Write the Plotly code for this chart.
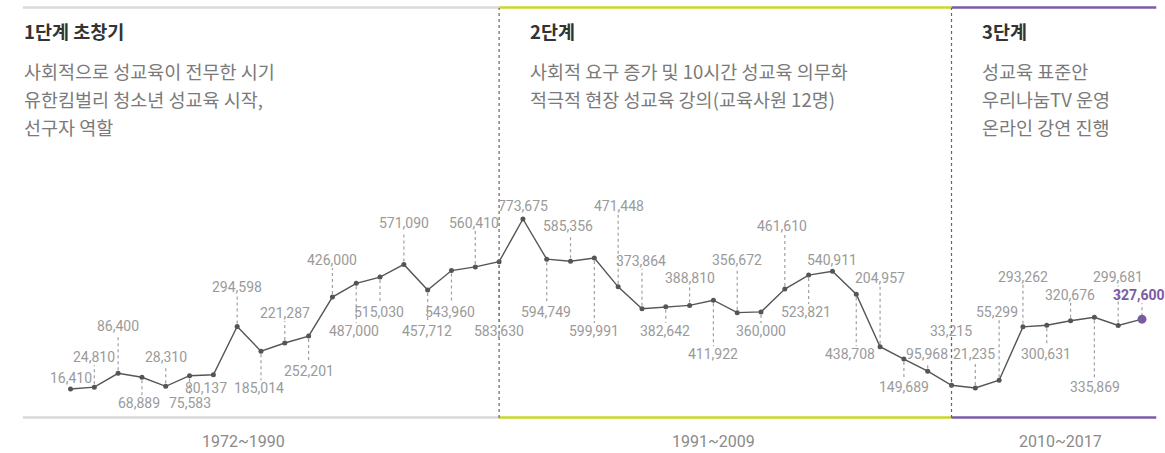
import plotly.graph_objects as go

# ---------------- data ----------------
years = [1972, 1973, 1974, 1975, 1976, 1977, 1978, 1979, 1980, 1981,
         1982, 1983, 1984, 1985, 1986, 1987, 1988, 1989, 1990, 1991,
         1992, 1993, 1994, 1995, 1996, 1997, 1998, 1999, 2000, 2001,
         2002, 2003, 2004, 2005, 2006, 2007, 2008, 2009, 2010, 2011,
         2012, 2013, 2014, 2015, 2016, 2017]
values = [16410, 24810, 86400, 68889, 28310, 75583, 80137, 294598, 185014, 221287,
          252201, 426000, 487000, 515030, 571090, 457712, 543960, 560410, 583630, 773675,
          594749, 585356, 599991, 471448, 373864, 382642, 388810, 411922, 356672, 360000,
          461610, 523821, 540911, 438708, 204957, 149689, 95968, 33215, 21235, 55299,
          293262, 300631, 320676, 335869, 299681, 327600]

stage_titles = ["1단계 초창기", "2단계", "3단계"]
stage_desc = [
    ["사회적으로 성교육이 전무한 시기", "유한킴벌리 청소년 성교육 시작,", "선구자 역할"],
    ["사회적 요구 증가 및 10시간 성교육 의무화", "적극적 현장 성교육 강의(교육사원 12명)"],
    ["성교육 표준안", "우리나눔TV 운영", "온라인 강연 진행"],
]
period_labels = ["1972~1990", "1991~2009", "2010~2017"]
stage_bounds = [1990, 2009]

# ---------------- layout helpers (label placement, pixels) ----------------
label_dy = [11, 30, 47, -26, 29, -27, -13, 40, -37, 30,
            -35, 37, -48, -35, 41, -41, -41, 44, -69, 13,
            -53, 35, -73, 81, 48, -24, 27, -54, 53, -19,
            63, -37, 11, -60, 69, -28, 17, 54, 34, 68,
            50, -29, 26, -70, 48, 24]
label_dx = [0, 0, 0, -3, 0, 0, -7, 0, -2, 0,
            0, 0, -2, -1, 0, -1, -1, -1, 0, 0,
            -1, -3, 0, 1, -1, -1, 0, 0, 0, 0,
            -3, -3, 0, -6, 0, 0, -1, -1, -1, -2,
            0, -1, -1, 1, 0, -3]

W, H = 1165, 453
GRAY_TXT = "#9a9a9a"
LINE = "#555555"
GREEN = "#c6d92b"
PURPLE = "#7a5ca3"
LGRAY = "#d9d9d9"

step = (1142 - 70.5) / 45
x_left = 1972 - 70.5 / step
x_right = x_left + W / step
slope = 2.245e-4
y_top = 392.7 / slope
y_bot = y_top - H / slope


def py(p):
    return 1 - p / H


def px(p):
    return p / W


fig = go.Figure()

n = len(years)
fig.add_trace(go.Scatter(
    x=years, y=values, mode="lines+markers",
    line=dict(color=LINE, width=1.4),
    marker=dict(color=LINE, size=5),
    hoverinfo="x+y", showlegend=False,
))
fig.add_trace(go.Scatter(
    x=[years[-1]], y=[values[-1]], mode="markers",
    marker=dict(color=PURPLE, size=9),
    hoverinfo="skip", showlegend=False,
))

shapes = []
annotations = []

# leader lines + value labels
for i in range(n):
    dy = label_dy[i]
    if abs(dy) > 13:
        sgn = 1 if dy > 0 else -1
        shapes.append(dict(
            type="line", xref="x", yref="y", ysizemode="pixel",
            x0=years[i], x1=years[i], yanchor=values[i],
            y0=sgn * 3, y1=dy - sgn * 8,
            line=dict(color="#a0a0a0", width=1.2, dash="dot"), layer="below",
        ))
    last = i == n - 1
    annotations.append(dict(
        x=years[i], y=values[i], xref="x", yref="y",
        text=(f"<b>{values[i]:,}</b>" if last else f"{values[i]:,}"),
        showarrow=False, xanchor="center", yanchor="middle",
        yshift=dy, xshift=label_dx[i],
        font=dict(family="Roboto", size=14, color=PURPLE if last else GRAY_TXT),
    ))

# top and bottom band lines
seg_x = [1970.0, stage_bounds[0], stage_bounds[1], 2017.6]
seg_col = [LGRAY, GREEN, PURPLE]
for yp in (py(7.5), py(417.5)):
    for k in range(3):
        shapes.append(dict(
            type="line", xref="x", yref="paper",
            x0=seg_x[k], x1=seg_x[k + 1], y0=yp, y1=yp,
            line=dict(color=seg_col[k], width=2.5),
        ))

# vertical stage dividers
for b in stage_bounds:
    shapes.append(dict(
        type="line", xref="x", yref="paper",
        x0=b, x1=b, y0=py(418), y1=py(8),
        line=dict(color="#666666", width=1.2, dash="dot"),
    ))

# stage texts
stage_x = [22, 528, 980]
for k in range(3):
    annotations.append(dict(
        x=px(stage_x[k]), y=py(31), xref="paper", yref="paper",
        text=f"<b>{stage_titles[k]}</b>", showarrow=False,
        xanchor="left", yanchor="middle",
        font=dict(family="Noto Sans CJK KR", size=18.5, color="#333333"),
    ))
    for j, line in enumerate(stage_desc[k]):
        annotations.append(dict(
            x=px(stage_x[k]), y=py(71 + 28 * j), xref="paper", yref="paper",
            text=line, showarrow=False, xanchor="left", yanchor="middle",
            font=dict(family="Noto Sans CJK KR", size=18.5, color="#7a7a7a"),
        ))

# period labels
period_x = [243, 713, 1060]
for k in range(3):
    annotations.append(dict(
        x=px(period_x[k]), y=py(441), xref="paper", yref="paper",
        text=period_labels[k], showarrow=False,
        xanchor="center", yanchor="middle",
        font=dict(family="Roboto", size=16, color="#8a8a8a"),
    ))

fig.update_layout(
    width=W, height=H,
    margin=dict(l=0, r=0, t=0, b=0),
    paper_bgcolor="white", plot_bgcolor="white",
    xaxis=dict(range=[x_left, x_right], visible=False, fixedrange=True),
    yaxis=dict(range=[y_bot, y_top], visible=False, fixedrange=True),
    shapes=shapes, annotations=annotations,
    showlegend=False,
)

fig.write_html(
    "out.html",
    config={"displayModeBar": False},
    post_script="document.body.style.margin='0px';document.body.style.overflow='hidden';",
)
